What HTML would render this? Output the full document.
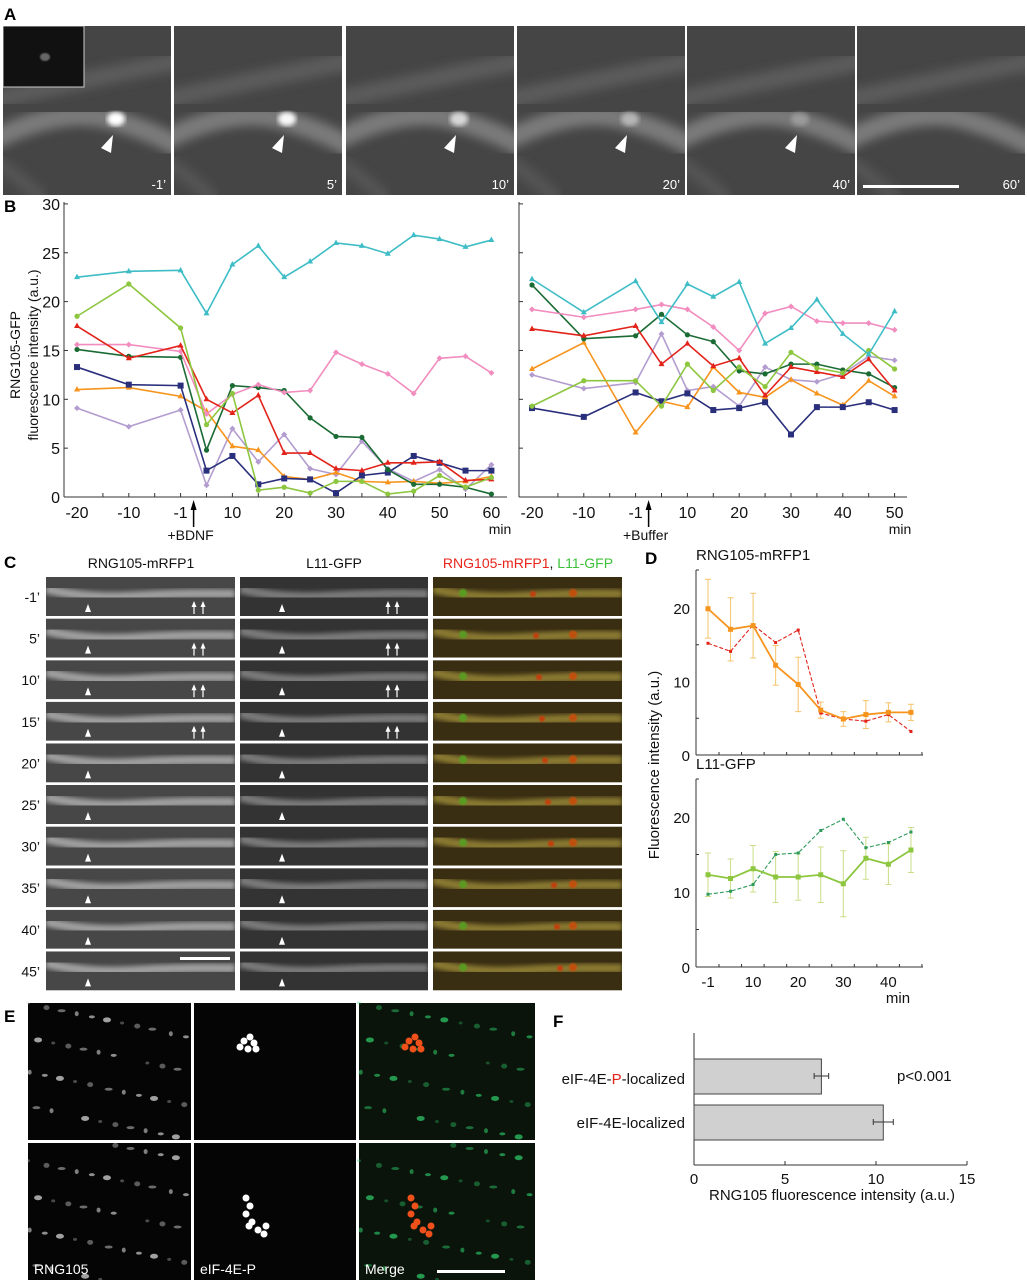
<!DOCTYPE html>
<html><head><meta charset="utf-8"><style>
html,body{margin:0;padding:0;background:#fff}
svg{display:block;font-family:"Liberation Sans",Arial,sans-serif}
</style></head><body>
<svg id="fig" width="1027" height="1280" viewBox="0 0 1027 1280" xmlns="http://www.w3.org/2000/svg">
<defs>
<filter id="blur4"><feGaussianBlur stdDeviation="5"/></filter>
<filter id="blur2"><feGaussianBlur stdDeviation="2.5"/></filter>
<filter id="blur1"><feGaussianBlur stdDeviation="0.8"/></filter>
</defs>
<g id="panelA"></g>
<g id="panelB"></g>
<g id="panelC"></g>
<g id="panelD"></g>
<g id="panelE"></g>
<g id="panelF"></g>
</svg>
<script>
// ---------- Panel B data ----------
const bLeftX = [-20,-10,-1,5,10,15,20,25,30,35,40,45,50,55,60];
const bRightX = [-20,-10,-1,5,10,15,20,25,30,35,40,45,50];
const bTicksY = [0,5,10,15,20,25,30];
const bLeftTickLabels = ["-20","-10","-1","10","20","30","40","50","60"];
const bRightTickLabels = ["-20","-10","-1","10","20","30","40","50"];
const cyanL = [22.5,23.1,23.2,18.8,23.8,25.7,22.5,24.1,26.0,25.7,24.9,26.8,26.4,25.6,26.3];
const lgreenL = [18.5,21.8,17.3,7.4,10.6,0.7,1.0,0.4,1.6,1.6,0.3,0.6,2.2,1.0,2.0];
const redL = [17.5,14.2,15.5,10.0,8.6,10.4,4.5,4.5,2.9,2.7,3.5,3.5,3.6,1.7,1.8];
const pinkL = [15.6,15.6,14.9,8.5,10.5,11.5,10.7,10.9,14.8,13.6,12.6,10.6,14.2,14.4,12.7];
const dgreenL = [15.1,14.4,14.3,4.8,11.4,11.2,10.9,8.1,6.2,6.1,2.8,1.3,1.3,1.0,0.3];
const navyL = [13.3,11.5,11.4,2.7,4.2,1.3,1.9,1.8,0.4,2.2,2.5,4.2,3.5,2.7,2.7];
const orangeL = [11.0,11.2,10.3,8.8,5.2,4.8,2.1,1.8,2.5,1.6,1.5,1.6,1.4,1.6,2.1];
const lavL = [9.1,7.2,8.9,1.2,7.0,3.6,6.4,2.9,2.3,5.7,2.9,1.6,2.8,0.8,3.3];
const cyanR = [22.3,18.9,22.1,17.9,21.8,20.5,22.0,15.7,17.3,20.2,16.7,14.6,19.0];
const pinkR = [19.2,18.4,19.2,19.7,19.2,17.4,15.0,18.8,19.5,18.0,17.8,17.8,17.1];
const redR = [17.2,16.5,17.5,13.6,15.7,13.4,14.2,10.4,13.3,12.8,12.3,14.1,10.9];
const dgreenR = [21.7,16.2,16.5,18.7,16.6,15.9,12.9,12.6,13.6,13.6,13.0,12.6,11.2];
const orangeR = [13.1,15.8,6.6,9.8,9.2,13.3,10.7,10.2,12.0,10.6,9.4,11.9,10.3];
const lgreenR = [9.3,11.9,11.9,9.3,13.6,10.9,13.3,11.3,14.8,13.2,12.7,15.0,13.1];
const lavR = [12.5,11.1,11.7,16.7,10.9,11.3,9.3,13.3,12.0,11.8,12.6,14.4,14.0];
const navyR = [9.1,8.2,10.7,9.8,10.6,8.9,9.1,9.7,6.4,9.2,9.2,9.7,8.9];
// ---------- Panel D data ----------
const dX = [0,5,10,15,20,25,30,35,40,45];
const dTickLabels = ["-1","10","20","30","40"];
const dYTicks = [0,10,20];
const rngMean = [19.9,17.1,17.6,12.2,9.6,6.1,4.9,5.5,5.8,5.8];
const rngErr = [4.0,4.3,4.4,2.7,3.7,1.1,1.0,1.9,1.3,1.1];
const rngSingle = [15.2,14.1,17.7,15.3,17.0,5.7,4.9,4.6,5.5,3.2];
const l11Mean = [12.3,11.8,13.1,12.0,12.0,12.3,11.1,14.5,13.7,15.6];
const l11Err = [2.9,2.6,3.1,3.4,3.1,3.7,4.4,2.8,2.7,3.0];
const l11Single = [9.7,10.1,11.0,15.0,15.2,18.2,19.7,15.9,16.6,18.0];
// ---------- Panel F data ----------
const fCategories = ["eIF-4E-P-localized","eIF-4E-localized"];
const fValues = [7.0,10.4];
const fErrors = [0.4,0.55];
const fTicks = [0,5,10,15];

const NS="http://www.w3.org/2000/svg";
function mk(tag, attrs, parent){const e=document.createElementNS(NS,tag);for(const k in attrs)e.setAttribute(k,attrs[k]);if(parent)parent.appendChild(e);return e;}
function txt(parent,x,y,s,size,anchor,fill,weight){const t=mk('text',{x:x,y:y,'font-size':size,'text-anchor':anchor||'start',fill:fill||'#111'},parent);if(weight)t.setAttribute('font-weight',weight);t.textContent=s;return t;}

// ---------- Panel A ----------
const A=document.getElementById('panelA');
const aL=txt(A,4,20,"A",17,'start','#000','bold');


const aX=[3,174,346,517,687,857];const aT=["-1\u2019","5\u2019","10\u2019","20\u2019","40\u2019","60\u2019"];
const aSpot=[1,0.95,0.7,0.45,0.25,0];
aX.forEach((x,i)=>{
  const g=mk('g',{},A);
  
  
  mk('clipPath',{id:'ca'+i},g).appendChild(mk('rect',{x:x,y:26,width:168,height:169}));
  const gg=mk('g',{'clip-path':'url(#ca'+i+')'},g);
  mk('rect',{x:x,y:26,width:168,height:169,fill:'#454545'},gg);
  mk('path',{d:`M${x-10} 140 Q${x+60} 105 ${x+110} 120 T${x+180} 150`,stroke:'#7c7c7c','stroke-width':20,fill:'none',filter:'url(#blur4)'},gg);
  mk('path',{d:`M${x-10} 100 Q${x+80} 80 ${x+180} 60`,stroke:'#5c5c5c','stroke-width':18,fill:'none',filter:'url(#blur4)'},gg);
  mk('path',{d:`M${x-10} 160 Q${x+20} 180 ${x+40} 200`,stroke:'#555','stroke-width':14,fill:'none',filter:'url(#blur4)'},gg);
  if(aSpot[i]>0) mk('ellipse',{cx:x+113,cy:119,rx:9,ry:7,fill:'#fff','fill-opacity':aSpot[i],filter:'url(#blur2)'},gg);
  if(i<5) mk('polygon',{points:`${x+98},${148} ${x+110},${135} ${x+108},${153}`,fill:'#fff'},gg);
  txt(gg,x+163,189,aT[i],13,'end','#fff');
  if(i==0){mk('rect',{x:x,y:26,width:81,height:61,fill:'#111',stroke:'#ccc','stroke-width':1},gg);mk('ellipse',{cx:x+42,cy:57,rx:5,ry:4,fill:'#666',filter:'url(#blur1)'},gg);}
  if(i==5) mk('rect',{x:863,y:185,width:96,height:3,fill:'#fff'},gg);
});

// ---------- Panel B ----------
const B=document.getElementById('panelB');
const bL=txt(B,4,212,"B",17,'start','#000','bold');


const colors={cyan:'#3ebdc6',lgreen:'#8dc63f',red:'#e2231a',pink:'#f18dbf',dgreen:'#1b6b35',navy:'#2a2f7c',orange:'#f7941d',lav:'#b39dd0'};
const seriesL=[['lav',lavL,'d'],['orange',orangeL,'t'],['navy',navyL,'s'],['dgreen',dgreenL,'c'],['pink',pinkL,'d'],['red',redL,'t'],['lgreen',lgreenL,'c'],['cyan',cyanL,'t']];
const seriesR=[['lav',lavR,'d'],['orange',orangeR,'t'],['navy',navyR,'s'],['dgreen',dgreenR,'c'],['pink',pinkR,'d'],['red',redR,'t'],['lgreen',lgreenR,'c'],['cyan',cyanR,'t']];
function marker(g,shape,x,y,c){
  if(shape=='t') return mk('polygon',{points:`${x},${y-3.5} ${x-3},${y+2} ${x+3},${y+2}`,fill:c},g);
  if(shape=='s') return mk('rect',{x:x-3,y:y-3,width:6,height:6,fill:c},g);
  if(shape=='d') return mk('polygon',{points:`${x},${y-3} ${x+3},${y} ${x},${y+3} ${x-3},${y}`,fill:c},g);
  return mk('circle',{cx:x,cy:y,r:2.6,fill:c},g);
}
function drawB(x0,xv,series,axisX,axisEnd,labels,showY,arrowLabel,name){
  const g=mk('g',{},B);
  
  
  const xs=v=>x0+((v<0&&v>-5?0:v)+20)*5.18;
  const ys=v=>497-v*9.77;
  mk('line',{x1:axisX,y1:202,x2:axisX,y2:497,stroke:'#333','stroke-width':1},g);
  mk('line',{x1:axisX,y1:497,x2:axisEnd,y2:497,stroke:'#333','stroke-width':1},g);
  bTicksY.forEach(t=>{mk('line',{x1:axisX,y1:ys(t),x2:axisX+4,y2:ys(t),stroke:'#333'},g);if(showY)txt(g,axisX-4,ys(t)+6,String(t),16,'end');});
  for(let v=-15;v<=xv[xv.length-1]+5;v+=5){const px=x0+(v+20)*5.18;if(px<axisEnd)mk('line',{x1:px,y1:497,x2:px,y2:493,stroke:'#333'},g);}
  labels.forEach(l=>{let v=parseFloat(l);txt(g,xs(v),518,l,16,'middle');});
  series.forEach(([c,vals,sh])=>{
    const sg=mk('g',{},g);
    
    
    mk('polyline',{points:vals.map((v,i)=>xs(xv[i])+','+ys(v)).join(' '),fill:'none',stroke:colors[c],'stroke-width':1.6},sg);
    vals.forEach((v,i)=>marker(sg,sh,xs(xv[i]),ys(v),colors[c]));
  });
  const ax=xs(-1)+13;
  mk('line',{x1:ax,y1:527,x2:ax,y2:507,stroke:'#000','stroke-width':1.5},g);
  mk('polygon',{points:`${ax-3},${510} ${ax+3},${510} ${ax},${500}`,fill:'#000'},g);
  txt(g,ax-3,540,arrowLabel,14,'middle');
  txt(g,axisEnd-7,534,"min",14,'middle');
}
drawB(77,bLeftX,seriesL,64,507,bLeftTickLabels,true,"+BDNF","chart-bdnf");
drawB(532,bRightX,seriesR,519,907,bRightTickLabels,false,"+Buffer","chart-buffer");
const yt=mk('text',{transform:'translate(20,355) rotate(-90)','font-size':14,'text-anchor':'middle',fill:'#111'},B);yt.textContent="RNG105-GFP";


const yt2=mk('text',{transform:'translate(38,355) rotate(-90)','font-size':14,'text-anchor':'middle',fill:'#111'},B);yt2.textContent="fluorescence intensity (a.u.)";



// ---------- Panel C ----------
const C=document.getElementById('panelC');
const cL=txt(C,4,568,"C",17,'start','#000','bold');


txt(C,141,568,"RNG105-mRFP1",14,'middle');
txt(C,334,568,"L11-GFP",14,'middle');
const ch=mk('text',{x:528,y:568,'font-size':14,'text-anchor':'middle'},C);
ch.innerHTML='<tspan fill="#e8251c">RNG105-mRFP1</tspan><tspan fill="#111">, </tspan><tspan fill="#3ec13a">L11-GFP</tspan>';
const cRows=["-1\u2019","5\u2019","10\u2019","15\u2019","20\u2019","25\u2019","30\u2019","35\u2019","40\u2019","45\u2019"];
const cCols=[[46,189,'#474747','#a0a0a0'],[240,188,'#333333','#7a7a7a'],[433,189,'#3a2e12','#8a7a30']];
cRows.forEach((r,i)=>{
  const y=577+i*41.6;
  txt(C,40,y+25,r,14,'end');
  cCols.forEach((c,j)=>{
    const g=mk('g',{},C);
    
    
    mk('clipPath',{id:'cc'+i+'_'+j},g).appendChild(mk('rect',{x:c[0],y:y,width:c[1],height:39}));
    const gg=mk('g',{'clip-path':'url(#cc'+i+'_'+j+')'},g);
    mk('rect',{x:c[0],y:y,width:c[1],height:39,fill:c[2]},gg);
    mk('path',{d:`M${c[0]} ${y+12} Q${c[0]+40} ${y+22} ${c[0]+90} ${y+19} T${c[0]+c[1]} ${y+17}`,stroke:c[3],'stroke-width':9,fill:'none',filter:'url(#blur2)'},gg);
    if(j==2){mk('circle',{cx:c[0]+30,cy:y+16,r:4,fill:'#5a9a20',filter:'url(#blur1)'},gg);mk('circle',{cx:c[0]+100+i*3,cy:y+17,r:3,fill:'#c04010',filter:'url(#blur1)'},gg);mk('circle',{cx:c[0]+140,cy:y+16,r:4,fill:'#c05010',filter:'url(#blur1)'},gg);}
    if(j<2){const ax=c[0]+42;mk('polygon',{points:`${ax},${y+27} ${ax-3},${y+35} ${ax+3},${y+35}`,fill:'#fff'},gg);
      if(i<4){[148,157].forEach(o=>{const px=c[0]+o;mk('line',{x1:px,y1:y+27,x2:px,y2:y+37,stroke:'#fff','stroke-width':1.2},gg);mk('polygon',{points:`${px},${y+24} ${px-2.5},${y+30} ${px+2.5},${y+30}`,fill:'#fff'},gg);});}}
  });
});
mk('rect',{x:180,y:957,width:50,height:3,fill:'#fff'},C);

// ---------- Panel D ----------
const D=document.getElementById('panelD');
const dL=txt(D,645,564,"D",17,'start','#000','bold');


function drawD(y0,top,ppu,mean,err,single,meanC,singleC,errC,title,name){
  const g=mk('g',{},D);
  
  
  const xs=v=>708+v*4.51;
  const ys=v=>y0-v*ppu;
  mk('line',{x1:696,y1:top,x2:696,y2:y0,stroke:'#333'},g);
  mk('line',{x1:696,y1:y0,x2:923,y2:y0,stroke:'#333'},g);
  mk('line',{x1:696,y1:top,x2:699,y2:top,stroke:'#333'},g);
  [5,15].forEach(t=>mk('line',{x1:696,y1:ys(t),x2:699,y2:ys(t),stroke:'#333'},g));
  dYTicks.forEach(t=>{txt(g,690,ys(t)+6,String(t),15,'end');});
  for(let k=0;k<10;k++){const px=719+k*22.55;if(px<923)mk('line',{x1:px,y1:y0,x2:px,y2:y0-3,stroke:'#333'},g);}
  txt(g,696,top-10,title,15,'start');
  mean.forEach((v,i)=>{mk('line',{x1:xs(dX[i]),y1:ys(v-err[i]),x2:xs(dX[i]),y2:ys(v+err[i]),stroke:errC,'stroke-width':1},g);
    [v-err[i],v+err[i]].forEach(e=>mk('line',{x1:xs(dX[i])-3,y1:ys(e),x2:xs(dX[i])+3,y2:ys(e),stroke:errC},g));});
  mk('polyline',{points:single.map((v,i)=>xs(dX[i])+','+ys(v)).join(' '),fill:'none',stroke:singleC,'stroke-width':1.1,'stroke-dasharray':'4,2'},g);
  single.forEach((v,i)=>mk('rect',{x:xs(dX[i])-1.5,y:ys(v)-1.5,width:3,height:3,fill:singleC},g));
  mk('polyline',{points:mean.map((v,i)=>xs(dX[i])+','+ys(v)).join(' '),fill:'none',stroke:meanC,'stroke-width':1.8},g);
  mean.forEach((v,i)=>mk('rect',{x:xs(dX[i])-2.5,y:ys(v)-2.5,width:5,height:5,fill:meanC},g));
}
drawD(755,570,7.35,rngMean,rngErr,rngSingle,'#f7941d','#e2231a','#f5c36a',"RNG105-mRFP1","chart-rng105-mrfp1");
drawD(967,779,7.5,l11Mean,l11Err,l11Single,'#8dc63f','#2e9a5a','#c9de86',"L11-GFP","chart-l11-gfp");
dTickLabels.forEach(l=>{let v=parseFloat(l);if(v<0)v=0;txt(D,708+v*4.51,987,l,15,'middle');});
txt(D,898,1003,"min",15,'middle');
const dy=mk('text',{transform:'translate(659,765) rotate(-90)','font-size':15,'text-anchor':'middle',fill:'#111'},D);dy.textContent="Fluorescence intensity (a.u.)";



// ---------- Panel E ----------
const E=document.getElementById('panelE');
const eL=txt(E,4,1022,"E",17,'start','#000','bold');


const eCols=[[28,163],[194,162],[359,176]];
const eRows=[[1003,137],[1143,137]];
const spots=[];
for(let k=0;k<40;k++){spots.push([((k*37)%97)/97,((k*53)%89)/89,0.4+((k*7)%6)/10]);}
eRows.forEach((r,ri)=>eCols.forEach((c,ci)=>{
  const g=mk('g',{},E);
  
  
  mk('rect',{x:c[0],y:r[0],width:c[1],height:r[1],fill:ci==2?'#0b140b':'#050505'},g);
  if(ci!=1) spots.forEach(([fx,fy,a],k)=>mk('ellipse',{cx:c[0]+fx*c[1],cy:r[0]+((fy+ri*0.13)%1)*r[1],rx:2+(k%3),ry:1.5+(k%2),fill:ci==2?'#2ecc6a':'#ddd','fill-opacity':a*0.8},g));
  if(ci>=1){const cx=c[0]+(ri?52:50),cy=r[0]+(ri?55:38);
    const pts=ri?[[0,0],[4,8],[0,16],[6,24],[12,32],[20,28],[18,36],[3,28]]:[[0,0],[6,-4],[10,2],[4,8],[-4,6],[12,8]];
    pts.forEach(p=>mk('circle',{cx:cx+p[0],cy:cy+p[1],r:3.5,fill:ci==2?'#f0501a':'#fff'},g));}
}));
txt(E,34,1274,"RNG105",14,'start','#fff');txt(E,200,1274,"eIF-4E-P",14,'start','#fff');txt(E,365,1274,"Merge",14,'start','#fff');
mk('rect',{x:437,y:1270,width:68,height:3,fill:'#fff'},E);

// ---------- Panel F ----------
const F=document.getElementById('panelF');
const fL=txt(F,553,1027,"F",17,'start','#000','bold');


const fx=v=>694+v*18.2;
mk('line',{x1:694,y1:1033,x2:694,y2:1165,stroke:'#333'},F);
mk('line',{x1:694,y1:1165,x2:fx(15),y2:1165,stroke:'#333'},F);
fTicks.forEach(t=>{mk('line',{x1:fx(t),y1:1165,x2:fx(t),y2:1161,stroke:'#333'},F);txt(F,fx(t),1184,String(t),15,'middle');});
const barY=[1059,1105];
fValues.forEach((v,i)=>{
  const r=mk('rect',{x:694,y:barY[i],width:fx(v)-694,height:35,fill:'#d0d0d0',stroke:'#444','stroke-width':1},F);
  
  
  const cy=barY[i]+17;
  mk('line',{x1:fx(v-fErrors[i]),y1:cy,x2:fx(v+fErrors[i]),y2:cy,stroke:'#333'},F);
  [v-fErrors[i],v+fErrors[i]].forEach(e=>mk('line',{x1:fx(e),y1:cy-3,x2:fx(e),y2:cy+3,stroke:'#333'},F));
});
const f1=mk('text',{x:685,y:1084,'font-size':15,'text-anchor':'end',fill:'#111'},F);
f1.innerHTML='eIF-4E-<tspan fill="#e2231a">P</tspan>-localized';
txt(F,685,1128,fCategories[1],15,'end');
txt(F,897,1081,"p<0.001",15,'start');
txt(F,832,1200,"RNG105 fluorescence intensity (a.u.)",15,'middle');
</script>
</body></html>
